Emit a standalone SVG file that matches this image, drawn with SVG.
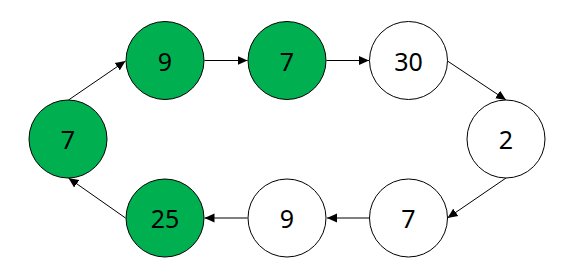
<svg xmlns="http://www.w3.org/2000/svg" width="576" height="276" viewBox="0 0 576 276">
<defs>
<marker id="ah" viewBox="0 0 10 10" refX="10" refY="5" markerWidth="10" markerHeight="10" markerUnits="userSpaceOnUse" orient="auto">
<path d="M0,0.5 L10,5 L0,9.5 Z" fill="#000"/>
</marker>
<style>
.n circle{stroke:#000;stroke-width:1}
.g circle{fill:#00B050}
.w circle{fill:#fff}
.n text{font-family:"Noto Sans","Open Sans",sans-serif;font-size:25px;fill:#000;text-anchor:middle}
.e line{stroke:#000;stroke-width:1;marker-end:url(#ah)}
</style>
</defs>
<rect width="576" height="276" fill="#fff"/>
<g class="e" id="connectors">
<line x1="68.5" y1="100" x2="125.5" y2="61"/>
<line x1="204.5" y1="60.5" x2="247.5" y2="60.5"/>
<line x1="326.5" y1="60.5" x2="369" y2="60.5"/>
<line x1="447.5" y1="61" x2="506" y2="100"/>
<line x1="506" y1="178" x2="447.5" y2="218"/>
<line x1="369" y1="218" x2="327" y2="218"/>
<line x1="247.5" y1="218" x2="204.5" y2="218"/>
<line x1="125.5" y1="218" x2="68.5" y2="178"/>
</g>
<g id="n1" class="n g"><circle cx="68" cy="139" r="39"/><text x="68" y="149">7</text></g>
<g id="n2" class="n g"><circle cx="165" cy="60.5" r="39"/><text x="165" y="70.5">9</text></g>
<g id="n3" class="n g"><circle cx="287" cy="60.5" r="39"/><text x="287" y="70.5">7</text></g>
<g id="n4" class="n w"><circle cx="408.5" cy="60.5" r="39"/><text x="408.5" y="70.5">30</text></g>
<g id="n5" class="n w"><circle cx="506" cy="139" r="39"/><text x="506" y="149">2</text></g>
<g id="n6" class="n w"><circle cx="408.5" cy="218" r="39"/><text x="408.5" y="228">7</text></g>
<g id="n7" class="n w"><circle cx="287" cy="218" r="39"/><text x="287" y="228">9</text></g>
<g id="n8" class="n g"><circle cx="165" cy="218" r="39"/><text x="165" y="228">25</text></g>
</svg>
